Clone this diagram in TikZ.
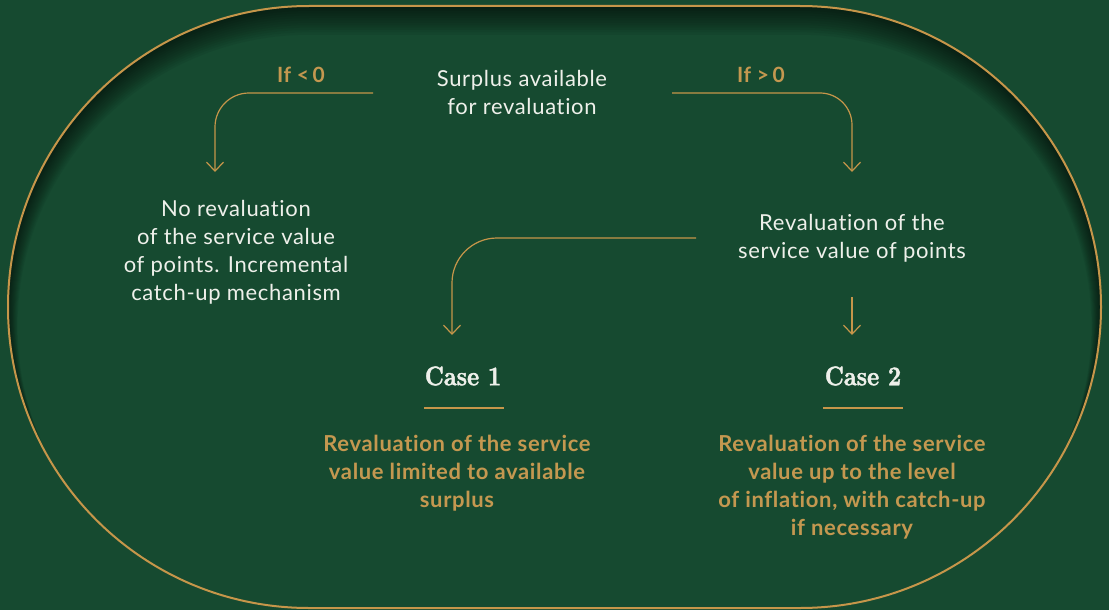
\documentclass[tikz,border=0pt]{standalone}
\usepackage{fontspec}
\setsansfont{Lato}[LetterSpace=3,Ligatures=NoCommon]
\newfontfamily\casefont{lmroman10-bold.otf}[FakeStretch=0.85,FakeBold=1.6]
\usetikzlibrary{arrows.meta}
\definecolor{bg}{RGB}{22,74,48}
\definecolor{gold}{RGB}{198,150,74}
\definecolor{goldtxt}{RGB}{196,152,80}
\definecolor{wtxt}{RGB}{238,240,234}
\tikzset{
  conn/.style={draw=gold, line width=1.2pt, -{Straight Barb[length=9pt,width=17pt]}},
  wtext/.style={text=wtxt, font=\sffamily\fontsize{22}{28}\selectfont, align=center, inner sep=0pt},
  gtext/.style={text=goldtxt, font=\sffamily\bfseries\fontsize{22}{28}\selectfont, align=center, inner sep=0pt},
  iflabel/.style={text=goldtxt, font=\sffamily\bfseries\fontsize{21}{24}\selectfont, inner sep=0pt},
  casetext/.style={text=wtxt, font=\casefont\fontsize{27}{30}\selectfont, inner sep=0pt},
  uline/.style={draw=gold, line width=1.3pt}
}
\begin{document}
\begin{tikzpicture}[x=1pt,y=-1pt]
\useasboundingbox (0,0) rectangle (1109,610);
\fill[bg] (0,0) rectangle (1109,610);
% inner shadow
\begin{scope}
\clip[rounded corners=301pt] (8,6) rectangle (1101,608);
\foreach \s in {1,...,12}{
  \pgfmathsetmacro{\a}{0.8*\s}
  \pgfmathsetmacro{\d}{1.6*\s}
  \pgfmathsetmacro{\r}{301-\a}
  \fill[black, opacity=0.055, even odd rule] (0,0) rectangle (1109,610)
    [rounded corners=\r pt] (8+\a,6+\a+\d) rectangle (1101-\a,608-\a+\d);
}
\end{scope}
\draw[gold, line width=2pt, rounded corners=301pt] (8,6) rectangle (1101,608);

% texts
\node[wtext] (surplus) at (522,92) {Surplus available\\for revaluation};
\node[iflabel] (ifneg) at (301,75) {If <\,0};
\node[iflabel] (ifpos) at (761,75) {If >\,0};
\node[wtext] (noreval) at (236,252) {No revaluation\\of the service value\\of points. Incremental\\catch-up mechanism};
\node[wtext] (reval) at (852,238) {Revaluation of the\\service value of points};
\node[casetext] (case1) at (463,376) {Case 1};
\node[casetext] (case2) at (863,376) {Case 2};
\node[gtext] (desc1) at (457,473) {Revaluation of the service\\value limited to available\\surplus};
\node[gtext] (desc2) at (852,487) {Revaluation of the service\\value up to the level\\of inflation, with catch-up\\if necessary};

% connector ends
\coordinate (sL) at (373,93);
\coordinate (tL) at (215,172);
\coordinate (sR) at (672,93);
\coordinate (tR) at (852,172);
\coordinate (rL) at (696,238);
\coordinate (t1) at (452,335);
\coordinate (r2) at (852,297);
\coordinate (t2) at (852,335);

\draw[conn, rounded corners=34pt] (sL) -| (tL);
\draw[conn, rounded corners=32pt] (sR) -| (tR);
\draw[conn, rounded corners=45pt] (rL) -| (t1);
\draw[conn] (r2) -- (t2);

% underlines
\coordinate (u1a) at (424,408);
\coordinate (u1b) at (504,408);
\coordinate (u2a) at (823,408);
\coordinate (u2b) at (903,408);
\draw[uline] (u1a) -- (u1b);
\draw[uline] (u2a) -- (u2b);
\end{tikzpicture}
\end{document}
